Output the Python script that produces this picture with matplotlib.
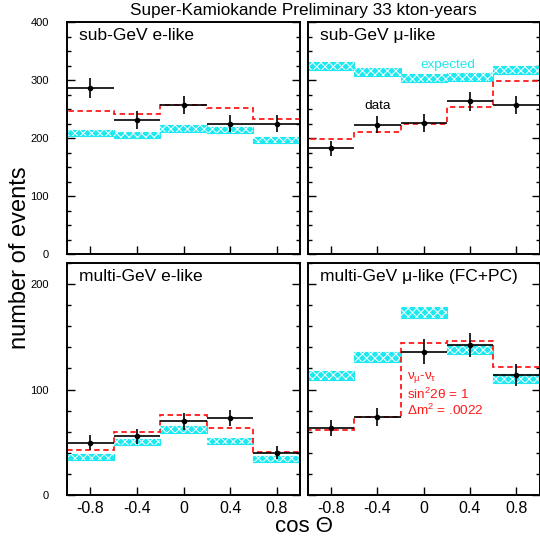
import numpy as np
import matplotlib
matplotlib.use('Agg')
import matplotlib.pyplot as plt
from matplotlib.ticker import MultipleLocator

plt.rcParams['font.family'] = ['Liberation Sans', 'DejaVu Sans']
plt.rcParams['mathtext.fontset'] = 'custom'
plt.rcParams['mathtext.rm'] = 'Liberation Sans'
plt.rcParams['mathtext.it'] = 'Liberation Sans'
plt.rcParams['mathtext.bf'] = 'Liberation Sans:bold'
plt.rcParams['hatch.linewidth'] = 0.7

# zenith angle binning
bin_edges = [-1.0, -0.6, -0.2, 0.2, 0.6, 1.0]
cos_centers = [-0.8, -0.4, 0.0, 0.4, 0.8]
xtick_labels = ['-0.8', '-0.4', '0', '0.4', '0.8']

# sub-GeV e-like
subgev_e_data = [286, 231, 257, 225, 225]
subgev_e_err = [17, 15, 16, 15.5, 15.5]
subgev_e_osc = [246, 242, 257, 251, 232]
subgev_e_mc = [208, 205, 216, 214, 197]
subgev_e_mc_err = [5.2, 5.5, 5.7, 5.7, 5.5]

# sub-GeV mu-like
subgev_mu_data = [182, 223, 226, 263, 257]
subgev_mu_err = [13, 15, 15, 16, 15]
subgev_mu_osc = [198, 210, 225, 254, 298]
subgev_mu_mc = [324, 314, 303, 305, 317]
subgev_mu_mc_err = [6.9, 7.5, 6.6, 6.9, 7.2]

# multi-GeV e-like
multigev_e_data = [49.5, 55.5, 70, 73, 40]
multigev_e_err = [7, 7, 8, 8, 6]
multigev_e_osc = [43, 60, 75.5, 63.5, 40.6]
multigev_e_mc = [36, 50.5, 62, 51, 34]
multigev_e_mc_err = [2.6, 3.0, 3.2, 3.0, 2.7]

# multi-GeV mu-like (FC+PC)
multigev_mu_data = [63.5, 74, 136, 142, 113.6]
multigev_mu_err = [8, 8.5, 11.7, 11.6, 10.5]
multigev_mu_osc = [62, 73.6, 144.4, 146.3, 121.6]
multigev_mu_mc = [113, 130.5, 173, 138, 110.5]
multigev_mu_mc_err = [4.4, 4.8, 5.2, 4.4, 4.4]

CYAN = '#1ee8f0'
RED = '#ff1a1a'


def draw_panel(ax, data, err, osc, mc, mc_err, label):
    edges = np.array(bin_edges)
    lo, hi = edges[:-1], edges[1:]
    mc = np.array(mc)
    mc_err = np.array(mc_err)

    # expectation without oscillation: hatched band per bin
    ax.bar(cos_centers, 2 * mc_err, bottom=mc - mc_err, width=0.4,
           color=CYAN, edgecolor=CYAN, linewidth=0.8, zorder=2)
    ax.bar(cos_centers, 2 * mc_err, bottom=mc - mc_err, width=0.4,
           facecolor='none', edgecolor='white', hatch='xxxx', linewidth=0, zorder=2.1)

    # oscillated expectation
    ax.stairs(osc, edges, baseline=0, color=RED, linestyle=(0, (3, 2)),
              linewidth=1.3, zorder=3)

    # data
    ax.hlines(data, lo, hi, color='black', linewidth=1.2, zorder=4)
    ax.errorbar(cos_centers, data, yerr=err, fmt='o', color='black', ms=3,
                elinewidth=1.2, capsize=0, zorder=5)

    ax.text(0.052, 0.94, label, transform=ax.transAxes, fontsize=12.5,
            ha='left', va='center')
    ax.set_xlim(-1, 1)
    ax.set_xticks(cos_centers)
    ax.tick_params(which='both', direction='in', right=True, top=False, width=1)
    ax.tick_params(which='major', length=6)
    ax.tick_params(which='minor', length=3)
    ax.tick_params(axis='y', labelsize=8, pad=13)
    ax.tick_params(axis='x', labelsize=11.5, pad=4)
    for s in ax.spines.values():
        s.set_linewidth(1.4)
        s.set_zorder(6)


fig = plt.figure(figsize=(5.4, 5.44), dpi=100)
W1, W2, H = 233 / 540, 231.5 / 540, 232 / 544
L1, L2 = 67 / 540, 308 / 540
B_top, B_bot = (544 - 254) / 544, (544 - 495) / 544

ax_tl = fig.add_axes([L1, B_top, W1, H])
ax_tr = fig.add_axes([L2, B_top, W2, H])
ax_bl = fig.add_axes([L1, B_bot, W1, H])
ax_br = fig.add_axes([L2, B_bot, W2, H])

draw_panel(ax_tl, subgev_e_data, subgev_e_err, subgev_e_osc, subgev_e_mc,
           subgev_e_mc_err, 'sub-GeV e-like')
draw_panel(ax_tr, subgev_mu_data, subgev_mu_err, subgev_mu_osc, subgev_mu_mc,
           subgev_mu_mc_err, 'sub-GeV μ-like')
draw_panel(ax_bl, multigev_e_data, multigev_e_err, multigev_e_osc, multigev_e_mc,
           multigev_e_mc_err, 'multi-GeV e-like')
draw_panel(ax_br, multigev_mu_data, multigev_mu_err, multigev_mu_osc, multigev_mu_mc,
           multigev_mu_mc_err, 'multi-GeV μ-like (FC+PC)')

for ax in (ax_tl, ax_tr):
    ax.set_ylim(0, 400)
    ax.yaxis.set_major_locator(MultipleLocator(100))
    ax.yaxis.set_minor_locator(MultipleLocator(25))
    ax.set_xticklabels([])
for ax in (ax_bl, ax_br):
    ax.set_ylim(0, 220)
    ax.yaxis.set_major_locator(MultipleLocator(100))
    ax.yaxis.set_minor_locator(MultipleLocator(20))
    ax.set_xticklabels(xtick_labels)
for ax in (ax_tr, ax_br):
    ax.set_yticklabels([])

ax_tr.text(0.209, 320, 'expected', color=CYAN, fontsize=9.7, ha='center', va='baseline')
ax_tr.text(-0.395, 249.5, 'data', color='black', fontsize=9.7, ha='center', va='baseline')

ax_br.text(-0.142, 110.5, r'$\nu_\mu$-$\nu_\tau$', color=RED, fontsize=9.7, va='baseline')
ax_br.text(-0.142, 91, r'sin$^2$2θ = 1', color=RED, fontsize=9.7, va='baseline')
ax_br.text(-0.142, 75.5, r'Δm$^2$ = .0022', color=RED, fontsize=9.7, va='baseline')

fig.text(303 / 540, 1 - 10 / 544, 'Super-Kamiokande Preliminary 33 kton-years',
         ha='center', va='center', fontsize=12.3)
fig.text(20 / 540, 1 - 258 / 544, 'number of events', rotation=90,
         ha='center', va='center', fontsize=17)
fig.text(304 / 540, 1 - 527 / 544, 'cos Θ', ha='center', va='center', fontsize=16)

fig.savefig('out.png', dpi=100)
